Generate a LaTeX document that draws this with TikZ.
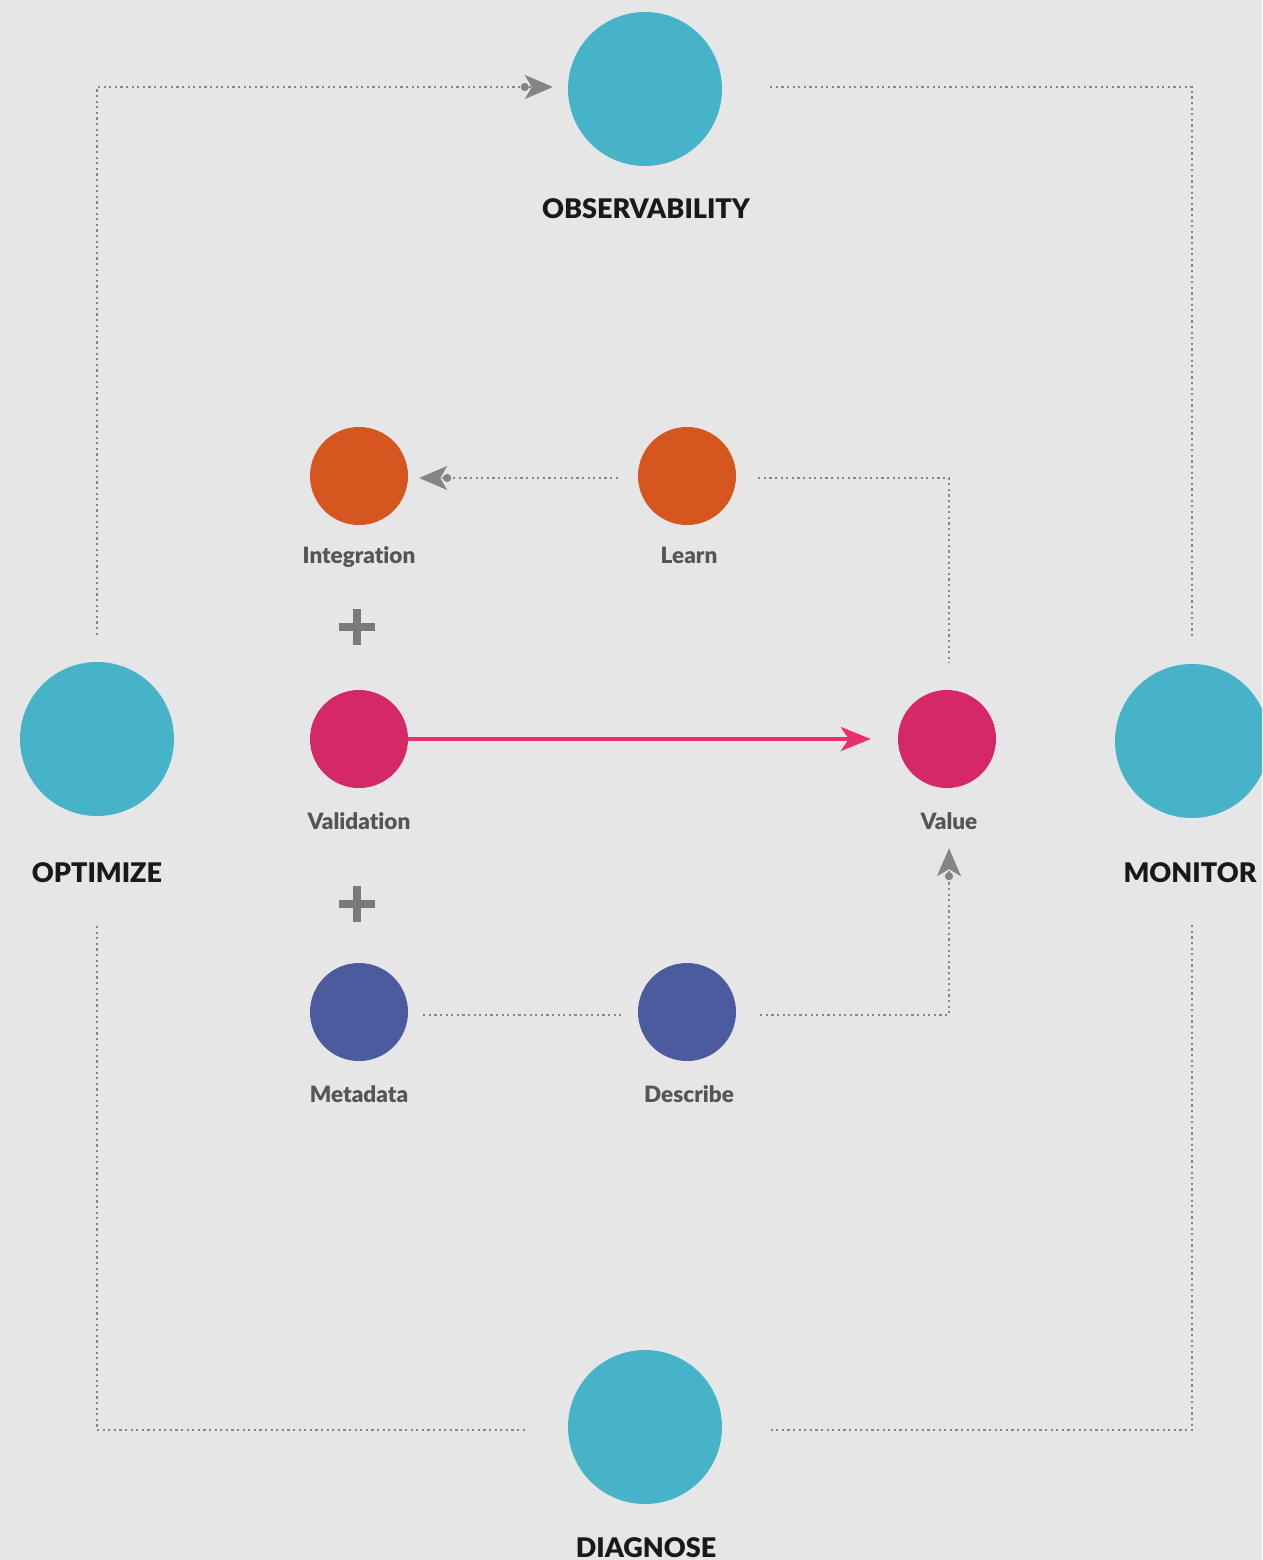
\documentclass[tikz,border=0pt]{standalone}
\usepackage{fontspec}
\setmainfont{Lato}[Ligatures=NoCommon,BoldFont={Lato Black}]
\usetikzlibrary{arrows.meta}
\definecolor{bg}{HTML}{E6E6E6}
\definecolor{teal}{HTML}{47B3C9}
\definecolor{orng}{HTML}{D5561F}
\definecolor{pnk}{HTML}{D42868}
\definecolor{pnkarrow}{HTML}{E8306E}
\definecolor{navy}{HTML}{4B5B9E}
\definecolor{dotgray}{HTML}{858585}
\definecolor{lblgray}{HTML}{555555}
\definecolor{plusgray}{HTML}{7A7A7A}
\tikzset{
  big/.style={circle,fill=teal,minimum size=154pt,inner sep=0pt},
  small/.style={circle,minimum size=98pt,inner sep=0pt},
  biglbl/.style={anchor=base,font=\fontsize{27}{30}\selectfont\bfseries,text=black!90},
  smalllbl/.style={anchor=base,font=\fontsize{22.5}{26}\selectfont\bfseries,text=lblgray},
  dotline/.style={draw=dotgray,line width=2.2pt,dash pattern=on 2.2pt off 3.4pt},
  garrow/.style={-{Circle[length=8pt,width=8pt,fill=dotgray,sep=-4pt] Stealth[length=28pt,width=24pt,inset=7pt,fill=dotgray]}},
  plus/.style={minimum size=36pt,inner sep=0pt,path picture={
    \fill[plusgray] ([xshift=-18pt,yshift=-4pt]path picture bounding box.center) rectangle ([xshift=18pt,yshift=4pt]path picture bounding box.center);
    \fill[plusgray] ([xshift=-4pt,yshift=-18pt]path picture bounding box.center) rectangle ([xshift=4pt,yshift=18pt]path picture bounding box.center);}}
}
\begin{document}
\begin{tikzpicture}[x=1pt,y=-1pt]
\fill[bg] (0,0) rectangle (1262,1560);
\useasboundingbox (0,0) rectangle (1262,1560);
\begin{scope}
\clip (0,0) rectangle (1262,1560);
\node[big] (obs) at (645,89) {};
\node[big] (opt) at (97,739) {};
\node[big] (mon) at (1192,741) {};
\node[big] (dia) at (645,1427) {};
\end{scope}
\node[biglbl] (obsl) at (646,218) {OBSERVABILITY};
\node[biglbl] (optl) at (97,882) {OPTIMIZE};
\node[biglbl] (monl) at (1190,882) {MONITOR};
\node[biglbl] (dial) at (646,1557) {DIAGNOSE};
% small circles
\node[small,fill=orng] (int) at (359,476) {};
\node[small,fill=orng] (lrn) at (687,476) {};
\node[small,fill=pnk] (val) at (359,739) {};
\node[small,fill=pnk] (vlu) at (947,739) {};
\node[small,fill=navy] (met) at (359,1012) {};
\node[small,fill=navy] (des) at (687,1012) {};
\node[smalllbl] (intl) at (359,563) {Integration};
\node[smalllbl] (lrnl) at (689,563) {Learn};
\node[smalllbl] (vall) at (359,829) {Validation};
\node[smalllbl] (vlul) at (949,829) {Value};
\node[smalllbl] (metl) at (359,1102) {Metadata};
\node[smalllbl] (desl) at (689,1102) {Describe};
% plus signs
\node[plus] (p1) at (357,627) {};
\node[plus] (p2) at (357,904) {};
% outer loop
\draw[dotline,garrow] ([yshift=27pt]opt.north) |- ([xshift=-15pt,yshift=2pt]obs.west);
\draw[dotline] ([xshift=48pt,yshift=2pt]obs.east) -| ([yshift=27pt]mon.north);
\draw[dotline] ([yshift=-107pt]mon.south) |- ([xshift=46pt,yshift=-3pt]dia.east);
\draw[dotline] ([xshift=-43pt,yshift=-3pt]dia.west) -| ([yshift=-109pt]opt.south);
% inner connections
\draw[dotline] ([xshift=22pt,yshift=-2pt]lrn.east) -| ([xshift=2pt,yshift=27pt]vlu.north);
\draw[dotline,garrow] ([xshift=-20pt,yshift=-2pt]lrn.west) -- ([xshift=11pt,yshift=-2pt]int.east);
\draw[dotline] ([xshift=15pt,yshift=-3pt]met.east) -- ([xshift=-17pt,yshift=-3pt]des.west);
\draw[dotline,garrow] ([xshift=24pt,yshift=-3pt]des.east) -| ([xshift=2pt,yshift=-60pt]vlu.south);
\draw[pnkarrow,line width=4pt,-{Stealth[length=30pt,width=24pt,inset=8pt]}] (val.east) -- ([xshift=-27pt]vlu.west);
\end{tikzpicture}
\end{document}
